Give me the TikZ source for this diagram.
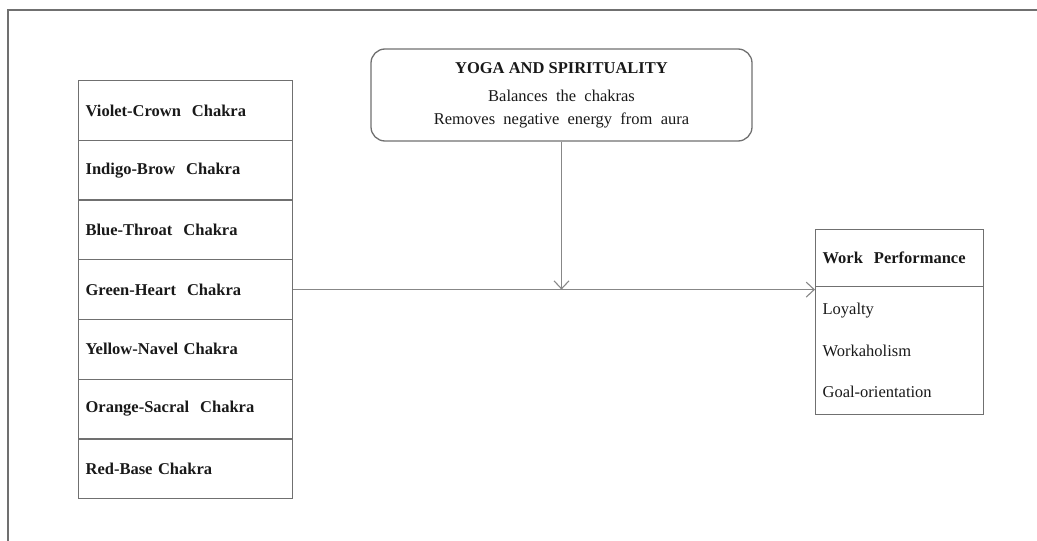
\documentclass[tikz,border=0pt]{standalone}
\usepackage{fontspec}
\setmainfont{Liberation Serif}
\usetikzlibrary{arrows.meta}
\definecolor{boxline}{RGB}{112,112,112}
\definecolor{conn}{RGB}{135,135,135}
\definecolor{txt}{RGB}{25,25,25}
\begin{document}
\begin{tikzpicture}[x=1pt,y=-1pt,
  chakra/.style={draw=boxline,line width=1.3pt,minimum width=214pt,minimum height=59.7pt,
    inner sep=0pt,anchor=north west,text width=200pt,align=left,text=txt,
    font=\fontsize{16.5}{19}\selectfont\bfseries},
  yogabox/.style={draw=boxline,line width=1.3pt,rounded corners=14pt,minimum width=381pt,
    minimum height=92pt,inner sep=0pt,align=center,text=txt,
    font=\fontsize{16.5}{23}\selectfont},
  wphead/.style={draw=boxline,line width=1.3pt,minimum width=168pt,minimum height=57pt,
    inner sep=0pt,anchor=north west,text width=154pt,align=left,text=txt,
    font=\fontsize{16.5}{19}\selectfont\bfseries},
  wpbody/.style={draw=boxline,line width=1.3pt,minimum width=168pt,minimum height=128pt,
    inner sep=0pt,anchor=north west,text width=154pt,align=left,text=txt,
    font=\fontsize{16.5}{41.5}\selectfont},
  conn/.style={draw=conn,line width=1.1pt,-{Straight Barb[length=8pt,width=15pt,line width=1.1pt]}}
]
\useasboundingbox (0,0) rectangle (1037,541);
\draw[boxline,line width=1.3pt] (8,541) -- (8,10) -- (1037,10);

\node[chakra] (c1) at (78,80)    {Violet-Crown\ \ Chakra};
\node[chakra] (c2) at (78,139.7) {Indigo-Brow\ \ Chakra};
\node[chakra] (c3) at (78,199.4) {Blue-Throat\ \ Chakra};
\node[chakra] (c4) at (78,259.1) {Green-Heart\ \ Chakra};
\node[chakra] (c5) at (78,318.8) {Yellow-Navel Chakra};
\node[chakra] (c6) at (78,378.5) {Orange-Sacral\ \ Chakra};
\node[chakra] (c7) at (78,438.2) {Red-Base Chakra};

\node[yogabox] (yoga) at (561.5,95) {\textbf{YOGA AND SPIRITUALITY}\\[5pt]
  Balances\ \ the\ \ chakras\\ Removes\ \ negative\ \ energy\ \ from\ \ aura};

\node[wphead] (wph) at (815,229) {Work\ \ Performance};
\node[wpbody] (wpb) at (815,286) {Loyalty\\ Workaholism\\ Goal-orientation};

\draw[conn] (yoga.south) -- (yoga.south |- c4.east);
\draw[conn] (c4.east) -- (c4.east -| wpb.west);
\end{tikzpicture}
\end{document}
